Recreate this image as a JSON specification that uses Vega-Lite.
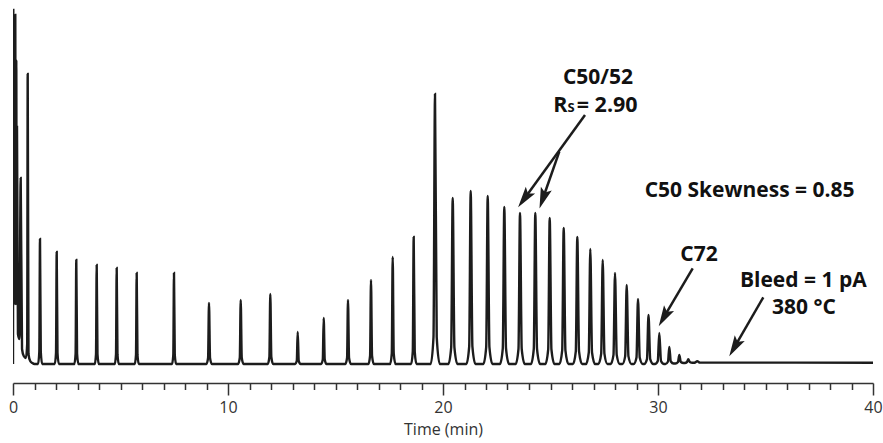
{
"$schema": "https://vega.github.io/schema/vega-lite/v6.json",
"width": 860, "height": 383,
"autosize": "none",
"padding": {"left": 13, "right": 10, "top": 0, "bottom": 60},
"background": "white",
"config": {"view": {"stroke": null}},
"datasets": {
"trace": [
{"t":0.000,"v":0},{"t":0.008,"v":200},{"t":0.014,"v":354},{"t":0.040,"v":80},{"t":0.090,"v":60},{"t":0.107,"v":349},{"t":0.125,"v":70},{"t":0.140,"v":60},{"t":0.153,"v":304},{"t":0.170,"v":60},{"t":0.186,"v":237},{"t":0.230,"v":30},{"t":0.300,"v":25},{"t":0.358,"v":186},{"t":0.420,"v":15},{"t":0.500,"v":8},{"t":0.600,"v":6},{"t":0.660,"v":20},{"t":0.684,"v":290},{"t":0.720,"v":10},{"t":0.800,"v":3},{"t":0.900,"v":1},{"t":1.000,"v":0},
{"t":1.166,"v":0},{"t":1.224,"v":12.5},{"t":1.256,"v":125},{"t":1.292,"v":12.5},{"t":1.356,"v":0},
{"t":1.943,"v":0},{"t":2.001,"v":11.2},{"t":2.033,"v":112},{"t":2.069,"v":11.2},{"t":2.133,"v":0},
{"t":2.854,"v":0},{"t":2.912,"v":10.4},{"t":2.944,"v":104},{"t":2.980,"v":10.4},{"t":3.044,"v":0},
{"t":3.803,"v":0},{"t":3.861,"v":9.9},{"t":3.893,"v":99},{"t":3.929,"v":9.9},{"t":3.993,"v":0},
{"t":4.733,"v":0},{"t":4.791,"v":9.6},{"t":4.823,"v":96},{"t":4.859,"v":9.6},{"t":4.923,"v":0},
{"t":5.663,"v":0},{"t":5.721,"v":9.1},{"t":5.753,"v":91},{"t":5.789,"v":9.1},{"t":5.853,"v":0},
{"t":7.398,"v":0},{"t":7.456,"v":9.1},{"t":7.488,"v":91},{"t":7.524,"v":9.1},{"t":7.588,"v":0},
{"t":8.996,"v":0},{"t":9.074,"v":6.1},{"t":9.116,"v":61},{"t":9.164,"v":6.1},{"t":9.248,"v":0},
{"t":10.471,"v":0},{"t":10.549,"v":6.4},{"t":10.591,"v":64},{"t":10.639,"v":6.4},{"t":10.723,"v":0},
{"t":11.847,"v":0},{"t":11.925,"v":7},{"t":11.967,"v":70},{"t":12.015,"v":7},{"t":12.099,"v":0},
{"t":13.122,"v":0},{"t":13.200,"v":3.2},{"t":13.242,"v":32},{"t":13.290,"v":3.2},{"t":13.374,"v":0},
{"t":14.331,"v":0},{"t":14.409,"v":4.6},{"t":14.451,"v":46},{"t":14.499,"v":4.6},{"t":14.583,"v":0},
{"t":15.461,"v":0},{"t":15.539,"v":6.4},{"t":15.581,"v":64},{"t":15.629,"v":6.4},{"t":15.713,"v":0},
{"t":16.531,"v":0},{"t":16.609,"v":8.4},{"t":16.651,"v":84},{"t":16.699,"v":8.4},{"t":16.783,"v":0},
{"t":17.540,"v":0},{"t":17.618,"v":10.7},{"t":17.660,"v":107},{"t":17.708,"v":10.7},{"t":17.792,"v":0},
{"t":18.517,"v":0},{"t":18.595,"v":12.7},{"t":18.637,"v":127},{"t":18.685,"v":12.7},{"t":18.769,"v":0},
{"t":19.428,"v":0},{"t":19.558,"v":27},{"t":19.628,"v":270},{"t":19.708,"v":27},{"t":19.848,"v":0},
{"t":20.251,"v":0},{"t":20.381,"v":16.6},{"t":20.451,"v":166},{"t":20.531,"v":16.6},{"t":20.671,"v":0},
{"t":21.088,"v":0},{"t":21.218,"v":17.3},{"t":21.288,"v":173},{"t":21.368,"v":17.3},{"t":21.508,"v":0},
{"t":21.879,"v":0},{"t":22.009,"v":16.8},{"t":22.079,"v":168},{"t":22.159,"v":16.8},{"t":22.299,"v":0},
{"t":22.651,"v":0},{"t":22.781,"v":15.7},{"t":22.851,"v":157},{"t":22.931,"v":15.7},{"t":23.071,"v":0},
{"t":23.381,"v":0},{"t":23.511,"v":15.1},{"t":23.581,"v":151},{"t":23.661,"v":15.1},{"t":23.801,"v":0},
{"t":24.093,"v":0},{"t":24.223,"v":15.1},{"t":24.293,"v":151},{"t":24.373,"v":15.1},{"t":24.513,"v":0},
{"t":24.763,"v":0},{"t":24.893,"v":14.6},{"t":24.963,"v":146},{"t":25.043,"v":14.6},{"t":25.183,"v":0},
{"t":25.414,"v":0},{"t":25.544,"v":13.6},{"t":25.614,"v":136},{"t":25.694,"v":13.6},{"t":25.834,"v":0},
{"t":26.047,"v":0},{"t":26.177,"v":12.7},{"t":26.247,"v":127},{"t":26.327,"v":12.7},{"t":26.467,"v":0},
{"t":26.651,"v":0},{"t":26.781,"v":11.5},{"t":26.851,"v":115},{"t":26.931,"v":11.5},{"t":27.071,"v":0},
{"t":27.228,"v":0},{"t":27.358,"v":10.4},{"t":27.428,"v":104},{"t":27.508,"v":10.4},{"t":27.648,"v":0},
{"t":27.800,"v":0},{"t":27.930,"v":9.1},{"t":28.000,"v":91},{"t":28.080,"v":9.1},{"t":28.220,"v":0},
{"t":28.344,"v":0},{"t":28.474,"v":7.9},{"t":28.544,"v":79},{"t":28.624,"v":7.9},{"t":28.764,"v":0},
{"t":28.870,"v":0},{"t":29.000,"v":6.5},{"t":29.070,"v":65},{"t":29.150,"v":6.5},{"t":29.290,"v":0},
{"t":29.358,"v":0},{"t":29.488,"v":4.9},{"t":29.558,"v":49},{"t":29.638,"v":4.9},{"t":29.778,"v":0},
{"t":29.860,"v":0},{"t":29.990,"v":3.1},{"t":30.060,"v":31},{"t":30.140,"v":3.1},{"t":30.280,"v":0},
{"t":30.346,"v":0},{"t":30.466,"v":2.5},{"t":30.526,"v":17},{"t":30.596,"v":2.5},{"t":30.726,"v":0.5},
{"t":30.811,"v":0.5},{"t":30.931,"v":2},{"t":30.991,"v":9},{"t":31.061,"v":2},{"t":31.191,"v":1},
{"t":31.249,"v":1},{"t":31.349,"v":2},{"t":31.409,"v":4.7},{"t":31.479,"v":2},{"t":31.609,"v":1.2},
{"t":31.700,"v":1.3},{"t":31.828,"v":2.7},{"t":31.950,"v":1.4},
{"t":33.000,"v":1.4},{"t":40.000,"v":1.3}
],
"arrows": [
{"t":26.605,"v":249,"t2":23.781,"v2":165.3,"ang":216},
{"t":25.409,"v":212.3,"t2":24.647,"v2":165.5,"ang":199},
{"t":31.614,"v":95.7,"t2":30.274,"v2":46.8,"ang":209.5},
{"t":34.898,"v":66.7,"t2":33.558,"v2":16.8,"ang":210}
],
"labels": [
{"t":27.21,"v":279.7,"label":"C50/52"},
{"t":34.26,"v":167.3,"label":"C50 Skewness = 0.85"},
{"t":31.91,"v":103.3,"label":"C72"},
{"t":36.76,"v":77.2,"label":"Bleed = 1 pA"},
{"t":36.79,"v":49.7,"label":"380 °C"}
],
"leftlabels": [
{"t":25.130,"v":252.3,"label":"R"},
{"t":26.219,"v":252.3,"label":"= 2.90"}
],
"sublabels": [
{"t":25.790,"v":252.3,"label":"S"}
]
},
"encoding": {
"x": {"field":"t","type":"quantitative","scale":{"domain":[0,40],"nice":false},
"axis":{"title":"Time (min)","values":[0,1,2,3,4,5,6,7,8,9,10,11,12,13,14,15,16,17,18,19,20,21,22,23,24,25,26,27,28,29,30,31,32,33,34,35,36,37,38,39,40],
"labelExpr":"datum.value % 10 === 0 ? datum.label : ''","grid":false,
"tickSize":{"condition":{"test":"datum.value % 10 === 0","value":12},"value":6.5},
"tickColor":"#333","tickWidth":1.5,"domainColor":"#333","domainWidth":1.5,
"labelFont":"Open Sans","labelFontSize":16,"labelColor":"#333","labelPadding":4,"labelFlush":false,
"titleFont":"Open Sans","titleFontSize":16,"titleFontWeight":"normal","titleColor":"#333","titlePadding":6}},
"y": {"field":"v","type":"quantitative","scale":{"domain":[-19,364],"nice":false,"zero":false},"axis":null}
},
"layer": [
{"data":{"name":"trace"},"mark":{"type":"line","color":"#1c1c1c","strokeWidth":2.4,"interpolate":"monotone","clip":true}},
{"data":{"name":"arrows"},"mark":{"type":"rule","color":"#1c1c1c","strokeWidth":2.5},
 "encoding":{"x2":{"field":"t2"},"y2":{"field":"v2"}}},
{"data":{"name":"arrows"},"mark":{"type":"point","filled":true,"color":"#1c1c1c","opacity":1,"size":440,"shape":"M0,-1L0.55,1L0,0.6L-0.55,1Z"},
 "encoding":{"x":{"field":"t2","type":"quantitative"},"y":{"field":"v2","type":"quantitative"},"angle":{"field":"ang","type":"quantitative","scale":null}}},
{"data":{"name":"labels"},"mark":{"type":"text","font":"Open Sans","fontWeight":"bold","fontSize":21,"align":"center","baseline":"alphabetic","color":"#111"},
 "encoding":{"text":{"field":"label"}}},
{"data":{"name":"leftlabels"},"mark":{"type":"text","font":"Open Sans","fontWeight":"bold","fontSize":21.5,"align":"left","baseline":"alphabetic","color":"#111"},
 "encoding":{"text":{"field":"label"}}},
{"data":{"name":"sublabels"},"mark":{"type":"text","font":"Open Sans","fontWeight":"bold","fontSize":13,"align":"left","baseline":"alphabetic","color":"#111"},
 "encoding":{"text":{"field":"label"}}}
]
}
